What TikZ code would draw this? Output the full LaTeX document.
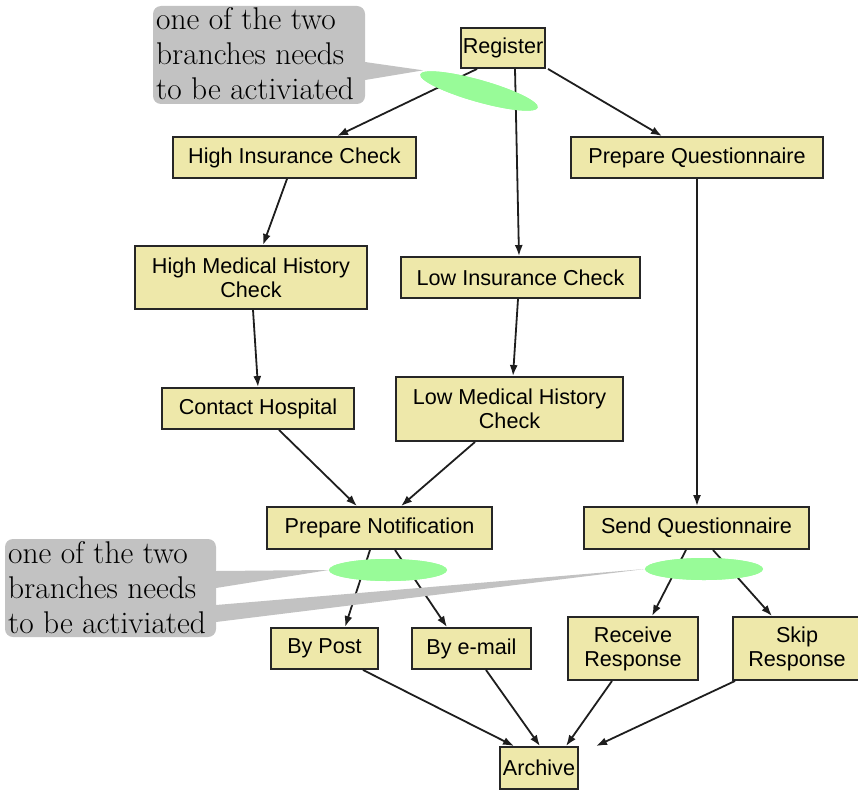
\documentclass[tikz,border=0pt]{standalone}
\usepackage{fontspec}
\newfontfamily\boxfont{Liberation Sans}
\usetikzlibrary{arrows.meta,shapes.geometric}
\definecolor{taskfill}{RGB}{238,232,170}
\definecolor{gatefill}{RGB}{152,251,152}
\definecolor{notegray}{RGB}{194,194,194}
\definecolor{edgecol}{RGB}{30,30,30}
\tikzset{
  task/.style={draw=black!85, line width=1.9pt, fill=taskfill, rectangle,
    inner sep=0pt, align=center, font=\boxfont\fontsize{21.6}{24}\selectfont},
  gate/.style={ellipse, fill=gatefill, inner sep=0pt,
    minimum width=118pt, minimum height=22pt},
  flow/.style={draw=edgecol, line width=1.8pt, -{Latex[length=11pt,width=8pt]}},
  note/.style={fill=notegray, rounded corners=8pt},
  notetext/.style={anchor=north west, inner sep=0pt, align=left,
    font=\fontsize{31.4}{35}\selectfont}
}
\begin{document}
\begin{tikzpicture}[x=1pt,y=-1pt]
\useasboundingbox (0,0) rectangle (858,789);

% tasks
\node[task, minimum width=84pt,  minimum height=40pt] (reg) at (503,48)    {Register};
\node[task, minimum width=243pt, minimum height=41pt] (hic) at (294.5,157.5) {High Insurance Check};
\node[task, minimum width=252pt, minimum height=41pt] (pq)  at (697,157.5)  {Prepare Questionnaire};
\node[task, minimum width=232pt, minimum height=63pt] (hmh) at (251,277.5)  {High Medical History\\Check};
\node[task, minimum width=239pt, minimum height=41pt] (lic) at (520.5,277.5) {Low Insurance Check};
\node[task, minimum width=192pt, minimum height=41pt] (ch)  at (258,408.5)  {Contact Hospital};
\node[task, minimum width=227pt, minimum height=64pt] (lmh) at (509.5,409)  {Low Medical History\\Check};
\node[task, minimum width=225pt, minimum height=42pt] (pn)  at (379.5,528)  {Prepare Notification};
\node[task, minimum width=225pt, minimum height=42pt] (sq)  at (696.5,528)  {Send Questionnaire};
\node[task, minimum width=107pt, minimum height=41pt] (bp)  at (324.5,648.5) {By Post};
\node[task, minimum width=119pt, minimum height=41pt] (be)  at (471.5,648.5) {By e-mail};
\node[task, minimum width=130pt, minimum height=63pt] (rr)  at (633,648.5)  {Receive\\Response};
\node[task, minimum width=128pt, minimum height=63pt] (sr)  at (797,648.5)  {Skip\\Response};
\node[task, minimum width=78pt,  minimum height=42pt] (ar)  at (539,768)    {Archive};

% control flow
\draw[flow] ([xshift=-26pt]reg.south) -- ([xshift=42.5pt]hic.north);
\draw[flow] ([xshift=12pt]reg.south)  -- ([xshift=-1.5pt]lic.north);
\draw[flow] ([xshift=45pt]reg.south)  -- ([xshift=-35pt]pq.north);
\draw[flow] ([xshift=-7.5pt]hic.south) -- ([xshift=12pt]hmh.north);
\draw[flow] (pq.south) -- ([xshift=0.5pt]sq.north);
\draw[flow] ([xshift=2pt]hmh.south) -- (ch.north);
\draw[flow] ([xshift=-2.5pt]lic.south) -- ([xshift=3.5pt]lmh.north);
\draw[flow] ([xshift=21pt]ch.south) -- ([xshift=-22.5pt]pn.north);
\draw[flow] ([xshift=-34.5pt]lmh.south) -- ([xshift=21.5pt]pn.north);
\draw[flow] ([xshift=-9.5pt]pn.south) -- ([xshift=20.5pt]bp.north);
\draw[flow] ([xshift=15.5pt]pn.south) -- ([xshift=-24.5pt]be.north);
\draw[flow] ([xshift=-10.5pt]sq.south) -- ([xshift=19pt]rr.north);
\draw[flow] ([xshift=16.5pt]sq.south) -- ([xshift=-25pt]sr.north);
\draw[flow] ([xshift=38.5pt]bp.south) -- ([xshift=-25pt]ar.north);
\draw[flow] ([xshift=14.5pt]be.south) -- ([xshift=1pt]ar.north);
\draw[flow] ([xshift=-21pt]rr.south) -- ([xshift=27pt]ar.north);
\draw[flow] ([xshift=-62pt]sr.south) -- ([xshift=57pt]ar.north);

% exclusive-choice gates (positions only; drawn after the notes)
\path (479,91) coordinate (g1c) (388,570) coordinate (g2c) (704,569) coordinate (g3c);
\node[gate, minimum width=122pt, rotate=-15.8] (g1) at (g1c) {};
\node[gate] (g2) at (g2c) {};
\node[gate] (g3) at (g3c) {};

% callout notes
\fill[note] (153,6) rectangle (365,104);
\fill[notegray] (355,62) -- (365,62) -- ([xshift=3pt,yshift=4pt]g1.west) -- (365,80) -- (355,80) -- cycle;
\node[notetext] (n1) at (156,7) {one of the two\\branches needs\\to be activiated};

\fill[note] (5,539) rectangle (216,637);
\fill[notegray] (206,571) -- (216,571) -- (g2.west) -- (216,588) -- (206,588) -- cycle;
\fill[notegray] (206,605) -- (216,605) -- (g3.west) -- (216,622) -- (206,622) -- cycle;
\node[notetext] (n2) at (8,541) {one of the two\\branches needs\\to be activiated};

% redraw gates above the note pointers
\node[gate, minimum width=122pt, rotate=-15.8] at (g1c) {};
\node[gate] at (g2c) {};
\node[gate] at (g3c) {};
\end{tikzpicture}
\end{document}
